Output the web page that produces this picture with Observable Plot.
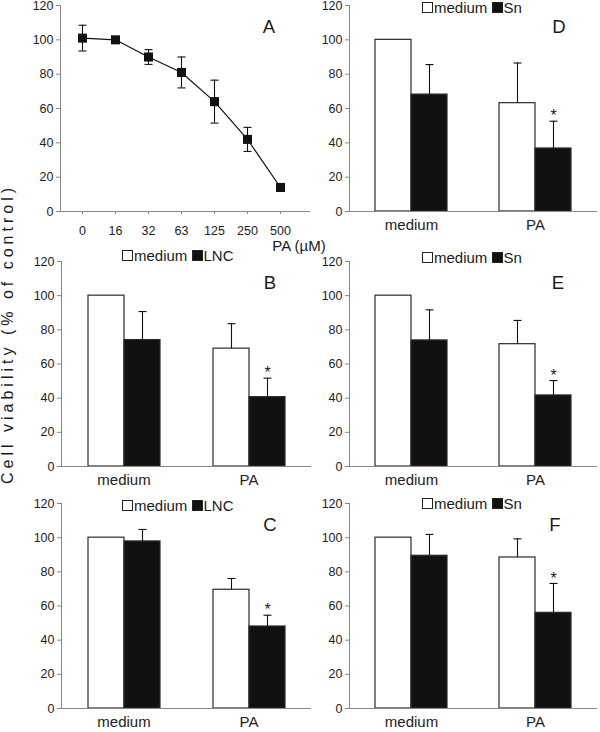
<!DOCTYPE html>
<html><head><meta charset="utf-8">
<script src="https://cdn.jsdelivr.net/npm/d3@7"></script>
<script src="https://cdn.jsdelivr.net/npm/@observablehq/plot@0.6"></script>
<style>
body{margin:0;background:#fff;font-family:"Liberation Sans",Arial,sans-serif;color:#1a1a1a}
#wrap{position:relative;width:600px;height:732px;overflow:hidden;background:#fff}
.panel{position:absolute}
.lbl{position:absolute;transform:translate(-50%,-50%);line-height:1;white-space:nowrap}
.legend{position:absolute;font-size:15px;line-height:16px;white-space:nowrap}
.sw{display:inline-block;width:9px;height:9px;border:1px solid #222;margin-right:1px}
</style></head><body><div id="wrap"></div>
<script>
// ---- data ----
const yTicks = [0, 20, 40, 60, 80, 100, 120];
// Panel A: PA dose response
const concA = ["0", "16", "32", "63", "125", "250", "500"];
const viabilityA = [101, 100, 90, 81, 64, 42, 14];
const errorA = [7.5, 1, 4.3, 9, 12.5, 7, 1];
// bar panels
const groups = ["medium", "PA"];
const seriesLNC = ["medium", "LNC"];
const seriesSn = ["medium", "Sn"];
const sigStars = [false, true];
// B
const mediumB = [100, 69];   const mediumErrB = [0, 14.6];
const lncB = [74, 40.6];     const lncErrB = [16.7, 11.1];
// C
const mediumC = [100, 69.5]; const mediumErrC = [0, 6.6];
const lncC = [97.8, 48];     const lncErrC = [7, 6.6];
// D
const mediumD = [100, 63.1]; const mediumErrD = [0, 23.4];
const snD = [68.1, 36.7];    const snErrD = [17.5, 15.9];
// E
const mediumE = [100, 71.6]; const mediumErrE = [0, 13.9];
const snE = [73.8, 41.6];    const snErrE = [17.9, 8.7];
// F
const mediumF = [100, 88.4]; const mediumErrF = [0, 10.9];
const snF = [89.4, 56];      const snErrF = [12.5, 17.2];

// ---- helpers ----
const FONT = "Liberation Sans, Arial, sans-serif";
const AX = "#888";
const TXT = "#222";
const cap = {draw(ctx) { ctx.moveTo(-4, 0); ctx.lineTo(4, 0); }};
const svgStyle = {background: "transparent", overflow: "visible", fontFamily: FONT, color: TXT};
const wrap = document.getElementById("wrap");

function place(node, left, top) {
  node.classList.add("panel");
  node.style.left = left + "px";
  node.style.top = top + "px";
  wrap.appendChild(node);
}

function panelA() {
  const rows = concA.map((c, i) => ({conc: c, v: viabilityA[i], e: errorA[i]}));
  return Plot.plot({
    width: 312, height: 245,
    marginLeft: 60, marginRight: 2, marginTop: 5, marginBottom: 34,
    style: svgStyle,
    x: {type: "point", domain: concA, padding: 0.63, insetRight: 8},
    y: {domain: [0, 120]},
    marks: [
      Plot.ruleY([0], {stroke: AX}),
      Plot.frame({anchor: "left", stroke: AX}),
      Plot.axisY({ticks: yTicks, tickSize: 4, tickPadding: 3, fontSize: 12.5, stroke: AX, fill: TXT, label: null}),
      Plot.axisX({tickSize: 3, tickPadding: 12, fontSize: 12.5, stroke: AX, fill: TXT, label: null}),
      Plot.line(rows, {x: "conc", y: "v", stroke: "#111", strokeWidth: 1.2}),
      Plot.ruleX(rows, {x: "conc", y1: d => d.v - d.e, y2: d => d.v + d.e, stroke: "#111", strokeWidth: 1.1}),
      Plot.dot(rows, {x: "conc", y: d => d.v + d.e, symbol: cap, stroke: "#111", fill: "none", strokeWidth: 1.1}),
      Plot.dot(rows, {x: "conc", y: d => d.v - d.e, symbol: cap, stroke: "#111", fill: "none", strokeWidth: 1.1}),
      Plot.dot(rows, {x: "conc", y: "v", symbol: "square", r: 5.1, fill: "#111", stroke: "none"})
    ]
  });
}

function barPanel(series, ctrl, ctrlErr, trt, trtErr, dims) {
  const rows = [];
  groups.forEach((g, i) => {
    rows.push({group: g, s: series[0], v: ctrl[i], e: ctrlErr[i], sig: false});
    rows.push({group: g, s: series[1], v: trt[i], e: trtErr[i], sig: sigStars[i]});
  });
  const withErr = rows.filter(d => d.e > 0);
  return Plot.plot({
    ...dims,
    style: svgStyle,
    fx: {domain: groups, padding: 0, label: null},
    x: {domain: series, paddingInner: 0, paddingOuter: 0.71, axis: null},
    y: {domain: [0, 120], axis: null},
    color: {domain: series, range: ["#ffffff", "#111111"]},
    marks: [
      Plot.barY(rows, {fx: "group", x: "s", y: "v", fill: "s", stroke: "#2a2a2a", strokeWidth: 1.2}),
      Plot.ruleX(withErr, {fx: "group", x: "s", y1: "v", y2: d => d.v + d.e, stroke: "#111", strokeWidth: 1.1}),
      Plot.dot(withErr, {fx: "group", x: "s", y: d => d.v + d.e, symbol: cap, stroke: "#111", fill: "none", strokeWidth: 1.1}),
      Plot.text(rows.filter(d => d.sig), {fx: "group", x: "s", y: d => d.v + d.e, text: () => "*", dy: -5, fontSize: 16, fill: TXT}),
      Plot.ruleY([0], {stroke: AX}),
      Plot.frame({anchor: "left", stroke: AX, facet: "super"}),
      Plot.axisY({ticks: yTicks, tickSize: 4, tickPadding: 3, fontSize: 12.5, stroke: AX, fill: TXT, label: null}),
      Plot.axisFx({anchor: "bottom", tickSize: 0, tickPadding: 8, fontSize: 15, fill: TXT, label: null})
    ]
  });
}

const leftTop = {width: 312, marginLeft: 60, marginRight: 1};
const rightDims = {width: 300, marginLeft: 49, marginRight: 3};

place(panelA(), 0, 0);
place(barPanel(seriesLNC, mediumB, mediumErrB, lncB, lncErrB, {...leftTop, height: 256, marginTop: 21, marginBottom: 30}), 0, 240);
place(barPanel(seriesLNC, mediumC, mediumErrC, lncC, lncErrC, {...leftTop, height: 250, marginTop: 21, marginBottom: 24}), 0, 482);
place(barPanel(seriesSn, mediumD, mediumErrD, snD, snErrD, {...rightDims, height: 245, marginTop: 5, marginBottom: 34}), 300, 0);
place(barPanel(seriesSn, mediumE, mediumErrE, snE, snErrE, {...rightDims, height: 256, marginTop: 21, marginBottom: 30}), 300, 240);
place(barPanel(seriesSn, mediumF, mediumErrF, snF, snErrF, {...rightDims, height: 250, marginTop: 21, marginBottom: 24}), 300, 482);

// ---- text labels ----
function label(text, x, y, size, extra) {
  const d = document.createElement("div");
  d.className = "lbl";
  d.textContent = text;
  d.style.left = x + "px";
  d.style.top = y + "px";
  d.style.fontSize = size + "px";
  if (extra) Object.assign(d.style, extra);
  wrap.appendChild(d);
}
const panelLetters = [["A", 269, 27], ["D", 559, 27], ["B", 270, 283], ["E", 558, 283], ["C", 270, 525], ["F", 555, 525]];
panelLetters.forEach(([t, x, y]) => label(t, x, y, 18.5));
label("PA (\u00B5M)", 299, 245, 15);
label("Cell viability (% of control)", 8, 334, 16, {transform: "translate(-50%,-50%) rotate(-90deg)", letterSpacing: "4px"});

function legend(series, x, y) {
  const d = document.createElement("div");
  d.className = "legend";
  d.style.left = x + "px";
  d.style.top = y + "px";
  d.innerHTML = `<span class="sw" style="background:#fff"></span>${series[0]} <span class="sw" style="background:#111"></span>${series[1]}`;
  wrap.appendChild(d);
}
legend(seriesLNC, 122, 248);
legend(seriesLNC, 122, 498);
legend(seriesSn, 422, 0);
legend(seriesSn, 422, 250);
legend(seriesSn, 422, 496);
</script>
</body></html>
